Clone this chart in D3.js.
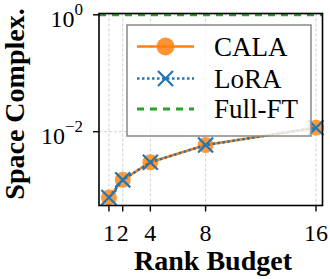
<!DOCTYPE html>
<meta charset="utf-8">
<html>
<head>
<script src="https://d3js.org/d3.v7.min.js"></script>
<style>
  body { margin: 0; background: #fff; }
  text { font-family: "Liberation Serif", "Times New Roman", serif; fill: #000; }
</style>
</head>
<body>
<div id="chart"></div>
<script>
// data
var ranks = [1, 2, 4, 8, 16];
var calaVals = [0.00075, 0.0015, 0.0030, 0.0059, 0.0117];
var loraVals = [0.00075, 0.0015, 0.0030, 0.0059, 0.0117];
var fullVal = 1.0;
var xTicks = [1, 2, 4, 8, 16];
var yTicks = [1e-2, 1e0];
var seriesNames = ["CALA", "LoRA", "Full-FT"];

var W = 330, H = 279;
var pLeft = 99, pRight = 322.5, pTop = 13.5, pBottom = 205.5;

var svg = d3.select("#chart").append("svg")
    .attr("width", W).attr("height", H);

var x = d3.scaleLinear().domain([0.28, 16.47]).range([pLeft, pRight]);
// y: 1 at 14.8, 0.01 at 131.7
var perDec = (131.7 - 14.8) / 2;
var y = d3.scaleLog()
    .domain([Math.pow(10, -(pBottom - 14.8) / perDec), Math.pow(10, (14.8 - pTop) / perDec)])
    .range([pBottom, pTop]);

// grid
var grid = svg.append("g");
grid.selectAll(".vg").data(xTicks).enter().append("line")
    .attr("x1", d => x(d)).attr("x2", d => x(d))
    .attr("y1", pTop).attr("y2", pBottom)
    .attr("stroke", "#d0d0d0").attr("stroke-width", 1).attr("stroke-dasharray", "3,2");
grid.selectAll(".hg").data(yTicks).enter().append("line")
    .attr("x1", pLeft).attr("x2", pRight)
    .attr("y1", d => y(d)).attr("y2", d => y(d))
    .attr("stroke", "#d0d0d0").attr("stroke-width", 1).attr("stroke-dasharray", "3,2");

// full-FT line
svg.append("line")
    .attr("x1", pLeft).attr("x2", pRight)
    .attr("y1", y(fullVal)).attr("y2", y(fullVal))
    .attr("stroke", "#2ca02c").attr("stroke-width", 3).attr("stroke-dasharray", "7,6");

var line = d3.line().x((d, i) => x(ranks[i])).y(d => y(d));

// CALA
svg.append("path").datum(calaVals)
    .attr("d", line).attr("fill", "none")
    .attr("stroke", "#ff7f0e").attr("stroke-width", 2.5);
svg.selectAll(".cala").data(calaVals).enter().append("circle")
    .attr("cx", (d, i) => x(ranks[i])).attr("cy", d => y(d))
    .attr("r", 8).attr("fill", "#ff7f0e").attr("fill-opacity", 0.8);

// LoRA
svg.append("path").datum(loraVals)
    .attr("d", line).attr("fill", "none")
    .attr("stroke", "#1f77b4").attr("stroke-width", 2.5).attr("stroke-dasharray", "2.5,2.5");
var xm = 7.5;
function cross(g, cx, cy) {
  g.append("path")
    .attr("d", "M" + (cx - xm) + "," + (cy - xm) + "L" + (cx + xm) + "," + (cy + xm) +
               "M" + (cx - xm) + "," + (cy + xm) + "L" + (cx + xm) + "," + (cy - xm))
    .attr("stroke", "#1f77b4").attr("stroke-width", 2.2).attr("fill", "none");
}
loraVals.forEach((d, i) => cross(svg, x(ranks[i]), y(d)));

// spines
svg.append("rect")
    .attr("x", pLeft).attr("y", pTop).attr("width", pRight - pLeft).attr("height", pBottom - pTop)
    .attr("fill", "none").attr("stroke", "#000").attr("stroke-width", 1.6);

// x ticks
var xt = svg.append("g");
xTicks.forEach(function(t) {
  xt.append("line").attr("x1", x(t)).attr("x2", x(t))
    .attr("y1", pBottom).attr("y2", pBottom + 6)
    .attr("stroke", "#000").attr("stroke-width", 1.4);
  xt.append("text").attr("x", x(t)).attr("y", 241)
    .attr("text-anchor", "middle").attr("font-size", 24).text(t);
});

// y ticks
var yt = svg.append("g");
yTicks.forEach(function(t) {
  var yy = y(t);
  yt.append("line").attr("x1", pLeft - 6).attr("x2", pLeft)
    .attr("y1", yy).attr("y2", yy)
    .attr("stroke", "#000").attr("stroke-width", 1.4);
  var e = Math.round(Math.log10(t));
  var tx = yt.append("text").attr("x", 83).attr("y", yy + 12)
    .attr("text-anchor", "end").attr("font-size", 24);
  tx.append("tspan").text("10");
  tx.append("tspan").attr("dy", -12).attr("font-size", 17)
    .text(e < 0 ? "\u2212" + (-e) : e);
});

// axis labels
svg.append("text").attr("x", 213).attr("y", 270)
    .attr("text-anchor", "middle").attr("font-size", 28).attr("font-weight", "bold")
    .text("Rank Budget");
svg.append("text")
    .attr("transform", "translate(24,104) rotate(-90)")
    .attr("text-anchor", "middle").attr("font-size", 28).attr("font-weight", "bold")
    .text("Space Complex.");

// legend
var lg = svg.append("g");
lg.append("rect").attr("x", 127).attr("y", 25).attr("width", 184).attr("height", 111)
    .attr("fill", "#fff").attr("fill-opacity", 0.8)
    .attr("stroke", "#888").attr("stroke-width", 1.5);
var rowY = [46.5, 78.5, 109];
var hx0 = 137, hx1 = 194;
// CALA
lg.append("line").attr("x1", hx0).attr("x2", hx1).attr("y1", rowY[0]).attr("y2", rowY[0])
  .attr("stroke", "#ff7f0e").attr("stroke-width", 2.5);
lg.append("circle").attr("cx", (hx0 + hx1) / 2).attr("cy", rowY[0]).attr("r", 9)
  .attr("fill", "#ff7f0e").attr("fill-opacity", 0.85);
// LoRA
lg.append("line").attr("x1", hx0).attr("x2", hx1).attr("y1", rowY[1]).attr("y2", rowY[1])
  .attr("stroke", "#1f77b4").attr("stroke-width", 2.5).attr("stroke-dasharray", "2.5,2.5");
cross(lg, (hx0 + hx1) / 2, rowY[1]);
// Full-FT
lg.append("line").attr("x1", hx0).attr("x2", hx1).attr("y1", rowY[2]).attr("y2", rowY[2])
  .attr("stroke", "#2ca02c").attr("stroke-width", 3).attr("stroke-dasharray", "7,6");
seriesNames.forEach(function(n, i) {
  lg.append("text").attr("x", 214).attr("y", rowY[i] + 9)
    .attr("font-size", 27).text(n);
});
</script>
</body>
</html>
